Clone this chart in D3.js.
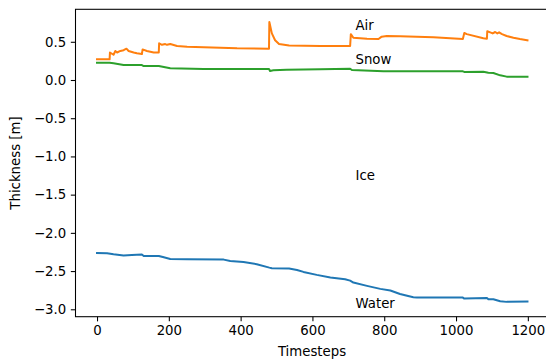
<!DOCTYPE html>
<html>
<head>
<meta charset="utf-8">
<script src="https://cdn.jsdelivr.net/npm/d3@7"></script>
<style>
  body { margin: 0; background: #fff; }
  svg { display: block; font-family: "DejaVu Sans", sans-serif; }
  .axis text { font-size: 13.3px; fill: #000; }
  .axis path, .axis line { stroke: #000; stroke-width: 1.07; }
  .label { font-size: 13.3px; fill: #000; }
</style>
</head>
<body>
<svg id="chart" width="546" height="360"></svg>
<script>
// values (timestep, thickness)
var airT   = [0, 35, 36, 46, 51, 56, 65, 74, 82, 88, 102, 111, 125, 127, 139, 158, 172, 173, 181, 190, 195, 204, 223, 251, 297, 390, 479, 480, 487, 496, 507, 535, 622, 705, 707, 714, 752, 784, 793, 807, 844, 937, 1019, 1023, 1030, 1076, 1086, 1087, 1097, 1102, 1109, 1115, 1120, 1128, 1141, 1160, 1178, 1199];
var airV   = [0.27, 0.27, 0.36, 0.33, 0.38, 0.36, 0.38, 0.39, 0.41, 0.38, 0.36, 0.35, 0.34, 0.40, 0.38, 0.36, 0.36, 0.48, 0.46, 0.47, 0.46, 0.47, 0.445, 0.435, 0.43, 0.415, 0.41, 0.76, 0.61, 0.52, 0.47, 0.45, 0.445, 0.445, 0.60, 0.553, 0.54, 0.536, 0.567, 0.575, 0.571, 0.558, 0.536, 0.615, 0.60, 0.545, 0.54, 0.637, 0.62, 0.61, 0.628, 0.61, 0.623, 0.60, 0.575, 0.553, 0.536, 0.52];

var snowT  = [0, 35, 46, 74, 125, 130, 172, 204, 297, 479, 482, 491, 528, 622, 705, 710, 798, 1019, 1023, 1076, 1090, 1104, 1123, 1141, 1199];
var snowV  = [0.226, 0.226, 0.218, 0.196, 0.196, 0.183, 0.183, 0.153, 0.144, 0.144, 0.118, 0.127, 0.135, 0.14, 0.148, 0.131, 0.114, 0.114, 0.105, 0.109, 0.096, 0.092, 0.061, 0.044, 0.044];

var waterT = [0, 28, 46, 74, 97, 125, 130, 172, 186, 204, 251, 353, 371, 408, 445, 480, 487, 535, 557, 575, 612, 650, 691, 705, 714, 752, 789, 817, 844, 881, 891, 1019, 1023, 1086, 1090, 1104, 1123, 1141, 1199];
var waterV = [-2.263, -2.267, -2.28, -2.297, -2.289, -2.284, -2.302, -2.302, -2.319, -2.341, -2.346, -2.35, -2.367, -2.38, -2.41, -2.455, -2.463, -2.467, -2.485, -2.511, -2.55, -2.585, -2.607, -2.625, -2.65, -2.694, -2.733, -2.755, -2.80, -2.842, -2.847, -2.847, -2.86, -2.851, -2.869, -2.869, -2.895, -2.903, -2.899];

var xTicks = [0, 200, 400, 600, 800, 1000, 1200];
var yTicks = [0.5, 0.0, -0.5, -1.0, -1.5, -2.0, -2.5, -3.0];

// region labels placed in data coords
var labelNames = ["Air", "Snow", "Ice", "Water"];
var labelY     = [0.66, 0.21, -1.31, -2.98];
var labelX     = 720;

var svg = d3.select("#chart");

// axes box (right side runs past the picture edge, like the reference)
var boxLeft = 75.5, boxRight = 549, boxTop = 9.3, boxBottom = 316.7;

var x = d3.scaleLinear().domain([-59.95, 1258.95]).range([boxLeft, boxRight]);
var y = d3.scaleLinear().domain([-3.097, 0.925]).range([boxBottom, boxTop]);

function pairs(ts, vs) {
  return ts.map(function(t, i) { return [t, vs[i]]; });
}

var line = d3.line()
  .x(function(d) { return x(d[0]); })
  .y(function(d) { return y(d[1]); });

var series = [
  { data: pairs(waterT, waterV), color: "#1f77b4" },
  { data: pairs(airT, airV),     color: "#ff7f0e" },
  { data: pairs(snowT, snowV),   color: "#2ca02c" }
];

svg.selectAll(".series")
  .data(series)
  .enter()
  .append("path")
  .attr("class", "series")
  .attr("fill", "none")
  .attr("stroke", function(d) { return d.color; })
  .attr("stroke-width", 2)
  .attr("stroke-linejoin", "round")
  .attr("stroke-linecap", "square")
  .attr("d", function(d) { return line(d.data); });

// frame
svg.append("rect")
  .attr("x", boxLeft).attr("y", boxTop)
  .attr("width", boxRight - boxLeft).attr("height", boxBottom - boxTop)
  .attr("fill", "none").attr("stroke", "#000").attr("stroke-width", 1.07);

// axes
var xAxis = d3.axisBottom(x).tickValues(xTicks).tickFormat(d3.format("d"))
  .tickSizeOuter(0).tickSize(4.67).tickPadding(4.67);
svg.append("g").attr("class", "axis")
  .attr("transform", "translate(0," + boxBottom + ")")
  .call(xAxis)
  .call(function(g) { g.select(".domain").remove(); });

var yAxis = d3.axisLeft(y).tickValues(yTicks).tickFormat(d3.format(".1f"))
  .tickSizeOuter(0).tickSize(4.67).tickPadding(4.67);
svg.append("g").attr("class", "axis")
  .attr("transform", "translate(" + boxLeft + ",0)")
  .call(yAxis)
  .call(function(g) { g.select(".domain").remove(); });

svg.selectAll(".axis text").attr("font-family", "DejaVu Sans, sans-serif");

// axis titles
svg.append("text").attr("class", "label")
  .attr("x", 312).attr("y", 355.5)
  .attr("text-anchor", "middle")
  .text("Timesteps");

svg.append("text").attr("class", "label")
  .attr("transform", "translate(19.5," + ((boxTop + boxBottom) / 2) + ") rotate(-90)")
  .attr("text-anchor", "middle")
  .text("Thickness [m]");

// region labels
svg.selectAll(".region")
  .data(labelNames)
  .enter()
  .append("text")
  .attr("class", "label region")
  .attr("x", x(labelX))
  .attr("y", function(d, i) { return y(labelY[i]); })
  .text(function(d) { return d; });
</script>
</body>
</html>
